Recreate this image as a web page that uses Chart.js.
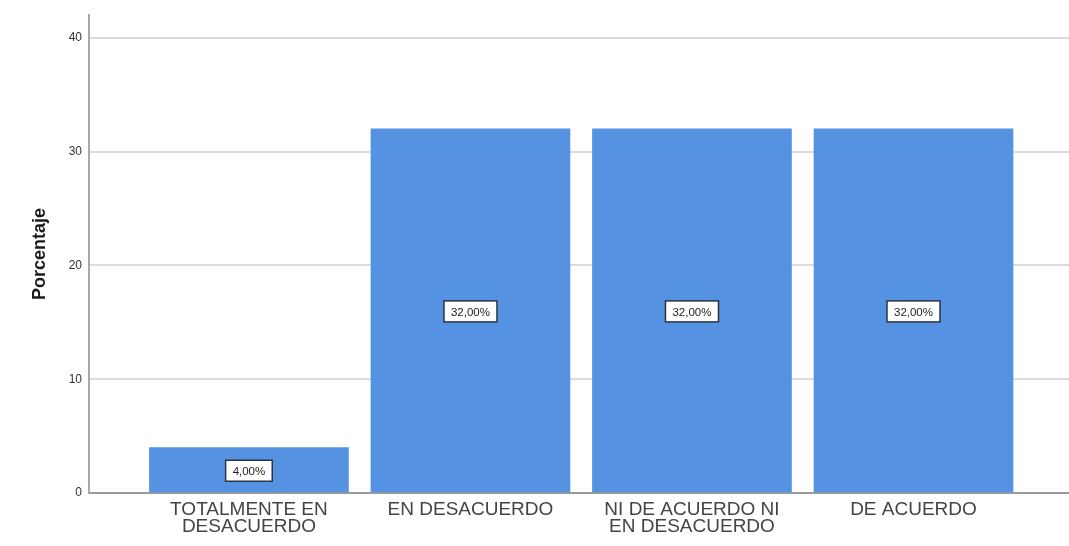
<!DOCTYPE html>
<html>
<head>
<meta charset="utf-8">
<script src="https://cdn.jsdelivr.net/npm/chart.js@4/dist/chart.umd.min.js"></script>
<style>
html,body{margin:0;padding:0;background:#fff;}
#wrap{width:1069px;height:546px;}
</style>
</head>
<body>
<div id="wrap"><canvas id="c" width="1069" height="546"></canvas></div>
<script>
const categories = [
  ['TOTALMENTE EN', 'DESACUERDO'],
  ['EN DESACUERDO'],
  ['NI DE ACUERDO NI', 'EN DESACUERDO'],
  ['DE ACUERDO']
];
const values = [4, 32, 32, 32];
const yTicks = [0, 10, 20, 30, 40];
const yTitle = 'Porcentaje';

const fmt = v => v.toFixed(2).replace('.', ',') + '%';

const labelPlugin = {
  id: 'barLabels',
  afterDatasetsDraw(chart) {
    const ctx = chart.ctx;
    const meta = chart.getDatasetMeta(0);
    ctx.save();
    ctx.font = '11.5px "Liberation Sans", Arial, sans-serif';
    ctx.textAlign = 'center';
    ctx.textBaseline = 'middle';
    meta.data.forEach((bar, i) => {
      const txt = fmt(values[i]);
      const cx = bar.x;
      const cy = (bar.y + bar.base) / 2 + 1;
      const w = ctx.measureText(txt).width + 14;
      const h = 21;
      ctx.fillStyle = '#ffffff';
      ctx.fillRect(cx - w / 2, cy - h / 2, w, h);
      ctx.lineWidth = 1.5;
      ctx.strokeStyle = '#2a3346';
      ctx.strokeRect(cx - w / 2, cy - h / 2, w, h);
      ctx.fillStyle = '#222';
      ctx.fillText(txt, cx, cy + 1);
    });
    ctx.restore();
  }
};

new Chart(document.getElementById('c'), {
  type: 'bar',
  data: {
    datasets: [{
      data: values.map((v, i) => ({ x: i, y: v })),
      backgroundColor: '#5592e2',
      borderWidth: 0,
      barThickness: 199
    }]
  },
  options: {
    responsive: false,
    animation: false,
    events: [],
    layout: { padding: { top: 15, right: 0, left: 0, bottom: 0 } },
    plugins: { legend: { display: false }, tooltip: { enabled: false } },
    scales: {
      x: {
        type: 'linear',
        offset: false,
        min: -0.722,
        max: 3.702,
        grid: { display: false, drawTicks: false, offset: false },
        border: { display: true, color: '#9a9a9a', width: 2 },
        afterFit: s => { s.height = 53; },
        ticks: {
          stepSize: 1,
          includeBounds: false,
          autoSkip: false,
          maxRotation: 0,
          minRotation: 0,
          padding: 8,
          color: '#444',
          font: { family: '"Liberation Sans", Arial, sans-serif', size: 19, lineHeight: 0.92 },
          callback: v => (Number.isInteger(v) && categories[v]) ? categories[v] : ''
        }
      },
      y: {
        min: 0,
        max: 42,
        afterFit: s => { s.width = 89; },
        afterBuildTicks: s => { s.ticks = yTicks.map(v => ({ value: v })); },
        grid: { color: '#dcdcdc', lineWidth: 2, drawTicks: false },
        border: { display: true, color: '#a8a8a8', width: 2 },
        ticks: {
          includeBounds: false,
          padding: 7,
          color: '#333',
          font: { family: '"Liberation Sans", Arial, sans-serif', size: 12 }
        },
        title: {
          display: true,
          text: yTitle,
          color: '#1a1a1a',
          font: { family: '"Liberation Sans", Arial, sans-serif', size: 18, weight: 'bold' },
          padding: { top: 29, bottom: 0 }
        }
      }
    }
  },
  plugins: [labelPlugin]
});
</script>
</body>
</html>
